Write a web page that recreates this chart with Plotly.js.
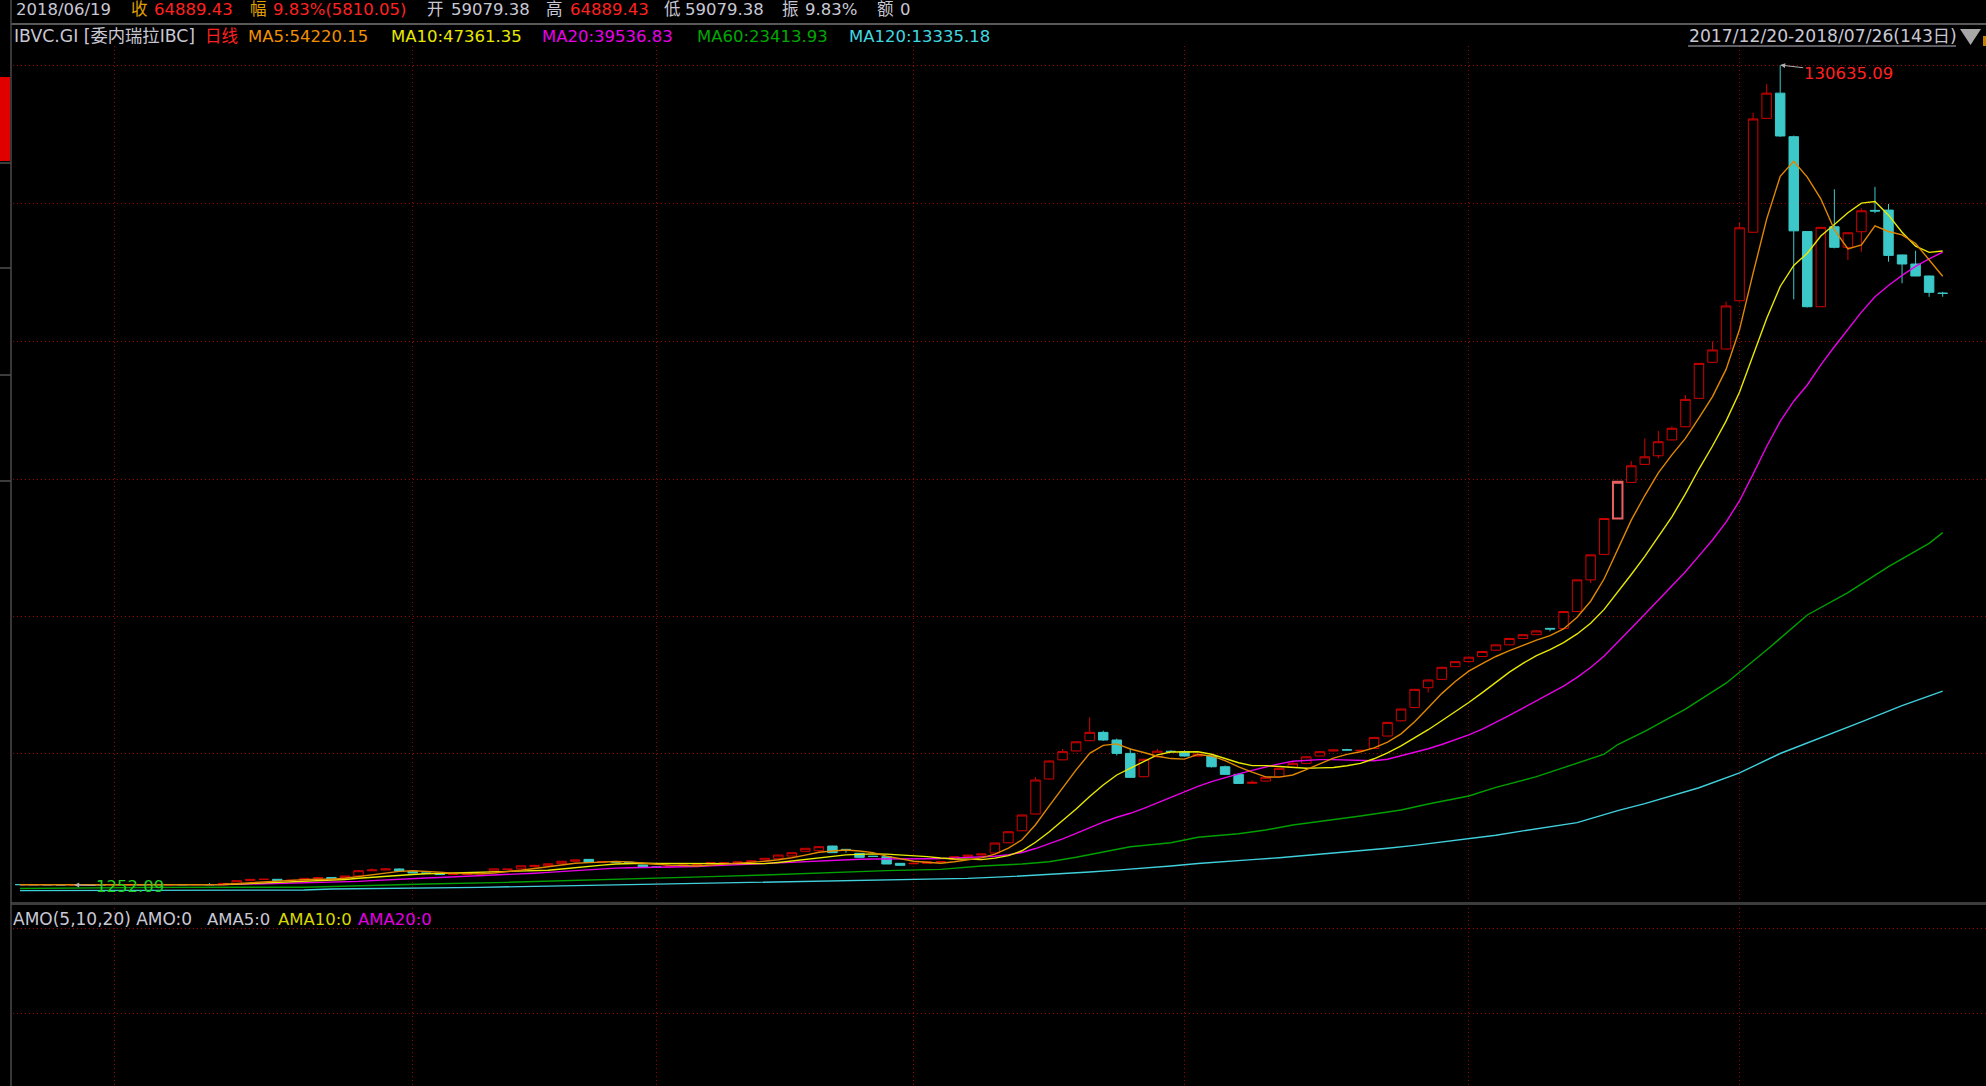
<!DOCTYPE html>
<html><head><meta charset="utf-8">
<script src="https://cdn.plot.ly/plotly-3.0.1.min.js"></script>
<style>html,body{margin:0;padding:0;background:#000;overflow:hidden}#chart{width:1986px;height:1086px}</style>
</head><body><div id="chart"></div>
<script>
// ---- data (daily bars 2017/12/20 - 2018/07/26, 143 bars) ----
const opens = [1320,1310,1300,1290,1272,1282,1292,1286,1292,1300,1296,1302,1312,1306,
 1322,1300,1410,1940,2140,2150,1950,2000,2250,2440,2400,2670,3500,3620,3780,3400,
 3150,3100,2900,2950,3000,3450,3700,3800,4150,4300,4620,5000,5300,4800,4950,4850,
 4400,4100,4100,4300,4400,4560,4770,4790,4880,5200,5460,5830,6575,6670,7400,6880,
 6249,5800,5723,4671,4600,4671,4880,5300,5720,5980,
 6300,7910,9810,12460,17980,21000,22400,24020,25340,24130,22020,18340,21480,22360,
 22290,21600,21600,19910,18710,17300,17660,18340,19800,20440,21610,22400,22600,22450,
 22800,24760,27160,29270,32380,33700,35700,36500,37300,38300,39150,40150,40750,41750,
 41740,44400,49400,53420,59079.38,64780,67620,68980,71480,73560,78040,83730,85830,93440,
 104250,122220,126200,119330,104360,92500,105120,101870,104330,107700,107750,100670,99240,97350,94650];
const highs = [1345,1325,1310,1300,1290,1300,1305,1300,1310,1312,1310,1322,1325,1335,
 1560,1520,1940,2150,2160,2160,2010,2310,2410,2450,2680,3530,3880,3790,3880,3420,
 3180,3120,2960,3010,3120,3800,3770,4290,4360,4610,5010,5210,5320,4960,4970,4870,
 4420,4250,4310,4410,4460,4800,4800,4900,5080,5480,6000,6360,7100,7310,7450,6890,
 6260,5850,5730,4700,4700,4900,5000,5750,6000,6200,
 7900,9700,12350,18290,20900,22710,23950,27700,25600,24350,22800,21150,22710,22500,
 22500,21950,21700,20100,18900,17750,18300,19700,20700,21550,22350,22600,22750,22600,
 24600,27000,29100,32200,33700,35700,36600,37300,38200,39200,40200,40800,41400,41760,
 44500,49450,53400,59079.38,64889.43,68150,71720,72890,73600,78570,83600,87000,93300,105720,
 123130,127650,130635.09,119500,104400,105100,111030,104200,108010,111420,108720,100700,101330,97400,94860];
const lows = [1300,1290,1280,1262,1252.09,1270,1278,1272,1282,1286,1285,1292,1298,1300,
 1320,1290,1400,1930,2130,1940,1940,1990,2240,2190,2390,2660,3490,3610,3440,3140,
 3090,2890,2890,2940,2990,3440,3690,3790,4140,4290,4610,4990,4790,4790,4840,4690,
 4040,4040,4090,4290,4390,4550,4740,4780,4870,5190,5450,5820,6560,6660,6340,6354,
 5600,5700,4560,4350,4590,4660,4870,5290,5710,5970,
 6250,7900,9800,12400,17900,20950,22350,23950,24000,21700,18150,18250,21400,22200,
 21500,21500,19800,18600,17200,17250,17600,18300,19750,20400,21580,22350,22450,22400,
 22750,24700,27100,29200,31600,33650,35650,36450,37250,38250,39100,40100,40700,41300,
 41700,44350,48900,53400,59079.38,64700,67600,68570,71450,73500,78000,83700,85800,93400,
 104200,122200,119300,93660,92400,92450,101710,99870,101180,107260,99600,96200,97300,94060,94070];
const closes = [1310,1300,1290,1272,1282,1292,1286,1292,1300,1296,1302,1312,1306,1322,
 1300,1500,1930,2140,2150,1950,2000,2300,2400,2200,2670,3510,3620,3780,3450,3150,
 3100,2900,2950,3000,3100,3800,3760,4280,4350,4600,5000,5200,4800,4950,4850,4700,
 4050,4050,4300,4400,4450,4770,4790,4880,5040,5460,5985,6350,7040,7300,6354,6800,
 5617,5750,4566,4355,4671,4880,4935,5720,5980,6143,
 7880,9660,12300,17820,20820,22290,23850,25340,24130,22020,18240,21090,22360,22300,
 21600,21900,19910,18710,17280,17450,18240,19660,20440,21480,22290,22550,22550,22500,
 24540,26910,29020,32120,33600,35600,36500,37200,38100,39150,40150,40750,41350,41650,
 44400,49400,53350,59079.38,64889.43,67400,68820,71200,73320,77880,83560,85680,92620,104950,
 122130,126200,119440,104470,92500,105020,101870,104170,107640,107600,100600,99240,97350,94770,94600];

// moving averages whose history starts before the window: values
const ma60Bars = [0,10,21,24,30,36,40,43,47,51,55,58,61,64,68,71,74,76,78,80,82,85,87,90,92,94,97,99,102,104,107,109,112,114,117,118,120,123,126,129,132,135,138,141,142];
const ma60Vals = [700,880,900,1094,1410,1673,1883,2094,2304,2567,2830,3093,3251,3514,3724,4250,4566,4929,5623,6507,7296,7927,8779,9347,9931,10720,11509,12140,13087,14034,15296,16669,18342,19762,21900,23414,25500,29000,33100,38335,43860,47380,51480,55170,56850];
const ma120Bars = [0,10,21,23,27,34,41,48,54,59,64,70,73,76,79,81,83,85,87,89,91,93,95,97,99,101,103,105,107,109,111,113,115,118,120,124,127,130,133,136,139,142];
const ma120Vals = [360,400,460,620,673,884,1147,1410,1620,1883,2094,2304,2567,2900,3300,3600,3900,4250,4650,5000,5250,5550,5900,6300,6700,7050,7500,8050,8550,9100,9800,10400,11100,13000,14100,16600,18950,22000,24450,27000,29550,31850];

const monthStarts = [7,29,47,66,86,107,127];       // first trading day of each month
const priceGrid = [130490,108710,87090,65310,43690,22070];
const amo = closes.map(() => 0);                    // AMO amounts (all 0)
const amoGrid = [1.2, 2.59];
const selIdx = 118;                                  // 2018/06/19 (cursor bar)
const lowIdx = 4, highIdx = 130;

const W = 1986, H = 1086;
const FONT = 'DejaVu Sans, Noto Sans CJK SC, sans-serif';
const bars = closes.map((_, i) => i);

function movingAverage(src, n) {
  return src.map((_, i) => {
    const s = Math.max(0, i - n + 1);
    const w = src.slice(s, i + 1);
    return w.reduce((a, b) => a + b, 0) / w.length;
  });
}

const UP = '#d00000', DOWN = '#3cc8c8';
const traces = [
  {type:'candlestick', x:bars, open:opens, high:highs, low:lows, close:closes,
   increasing:{line:{color:UP,width:1}, fillcolor:'#000000'},
   decreasing:{line:{color:DOWN,width:1}, fillcolor:DOWN},
   whiskerwidth:0, hoverinfo:'skip', showlegend:false},
  {type:'candlestick', x:[bars[selIdx]], open:[opens[selIdx]], high:[highs[selIdx]], low:[lows[selIdx]], close:[closes[selIdx]],
   increasing:{line:{color:'#e86060',width:2}, fillcolor:'#000000'},
   decreasing:{line:{color:'#e86060',width:2}, fillcolor:'#000000'},
   whiskerwidth:0, hoverinfo:'skip', showlegend:false},
  {type:'scatter', mode:'lines', x:ma120Bars, y:ma120Vals, line:{color:'#40d0dc',width:1.4}, hoverinfo:'skip'},
  {type:'scatter', mode:'lines', x:ma60Bars, y:ma60Vals, line:{color:'#00a000',width:1.4}, hoverinfo:'skip'},
  {type:'scatter', mode:'lines', x:bars, y:movingAverage(closes,20), line:{color:'#e800e8',width:1.4}, hoverinfo:'skip'},
  {type:'scatter', mode:'lines', x:bars, y:movingAverage(closes,10), line:{color:'#e8e800',width:1.4}, hoverinfo:'skip'},
  {type:'scatter', mode:'lines', x:bars, y:movingAverage(closes,5), line:{color:'#e08800',width:1.4}, hoverinfo:'skip'},
  {type:'bar', x:bars, y:amo, xaxis:'x2', yaxis:'y2', marker:{color:UP}, hoverinfo:'skip'}
];

const GRID = '#a00000', GDASH = '1px,3px';
const px = v => v / W, py = v => 1 - v / H;

function txt(s, x, y, color, size) {
  return {xref:'paper', yref:'paper', x:px(x), y:py(y), xanchor:'left', yanchor:'middle',
    text:s, showarrow:false, font:{family:FONT, size:size || 16.5, color:color}, borderpad:0};
}
const GRAY = '#c8c8d4', RED = '#ff2020', GOLD = '#e0a000';
const annotations = [
  txt('2018/06/19', 15, 10, GRAY),
  txt('收', 130, 10, GOLD), txt('64889.43', 153, 10, RED),
  txt('幅', 249, 10, GOLD), txt('9.83%(5810.05)', 272, 10, RED),
  txt('开', 426, 10, GRAY), txt('59079.38', 450, 10, GRAY),
  txt('高', 545, 10, GRAY), txt('64889.43', 569, 10, RED),
  txt('低', 663, 10, GRAY), txt('59079.38', 684, 10, GRAY),
  txt('振', 781, 10, GRAY), txt('9.83%', 804, 10, GRAY),
  txt('额', 876, 10, GRAY), txt('0', 899, 10, GRAY),
  txt('IBVC.GI [委内瑞拉IBC]', 13, 36, GRAY, 17.3),
  txt('日线', 204, 36, RED),
  txt('MA5:54220.15', 247, 36, '#f09000'),
  txt('MA10:47361.35', 390, 36, '#e8e800'),
  txt('MA20:39536.83', 541, 36, '#e800e8'),
  txt('MA60:23413.93', 696, 36, '#00a800'),
  txt('MA120:13335.18', 848, 36, '#40d8e0'),
  txt('2017/12/20-2018/07/26(143日)', 1688, 36, GRAY, 17.2),
  txt('AMO(5,10,20) AMO:0', 12, 919, GRAY, 17),
  txt('AMA5:0', 206, 919, GRAY),
  txt('AMA10:0', 277, 919, '#d8d800'),
  txt('AMA20:0', 357, 919, '#e000e0'),
  {xref:'x', yref:'y', x:bars[highIdx], y:highs[highIdx], text:highs[highIdx].toFixed(2),
   showarrow:true, ax:68, ay:8, arrowhead:2, arrowsize:1, arrowwidth:1, arrowcolor:'#b0b0b0',
   font:{family:FONT, size:16.5, color:RED}, borderpad:0},
  {xref:'x', yref:'y', x:bars[lowIdx], y:lows[lowIdx], text:lows[lowIdx].toFixed(2),
   showarrow:true, ax:56, ay:1, arrowhead:2, arrowsize:1, arrowwidth:1, arrowcolor:'#b0b0b0',
   font:{family:FONT, size:16.5, color:'#20d020'}, borderpad:0}
];

const shapes = [
  {type:'line', xref:'paper', yref:'paper', x0:px(11), x1:1, y0:py(24), y1:py(24), line:{color:'#585858', width:2}},
  {type:'rect', xref:'paper', yref:'paper', x0:px(11), x1:1, y0:py(902), y1:py(905), fillcolor:'#3c3c3c', line:{width:0}},
  {type:'line', xref:'paper', yref:'paper', x0:px(11), x1:px(11), y0:0, y1:1, line:{color:'#4a4a4a', width:1.5}},
  {type:'rect', xref:'paper', yref:'paper', x0:0, x1:px(10), y0:py(161), y1:py(77), fillcolor:'#e00000', line:{width:0}},
  {type:'line', xref:'paper', yref:'paper', x0:0, x1:px(11), y0:py(163), y1:py(163), line:{color:'#505050', width:1.5}},
  {type:'line', xref:'paper', yref:'paper', x0:0, x1:px(11), y0:py(268), y1:py(268), line:{color:'#505050', width:1.5}},
  {type:'line', xref:'paper', yref:'paper', x0:0, x1:px(11), y0:py(375), y1:py(375), line:{color:'#505050', width:1.5}},
  {type:'line', xref:'paper', yref:'paper', x0:0, x1:px(11), y0:py(481), y1:py(481), line:{color:'#505050', width:1.5}},
  {type:'line', xref:'paper', yref:'paper', x0:px(1688), x1:px(1956), y0:py(46), y1:py(46), line:{color:'#b8b8c4', width:1}},
  {type:'path', xref:'paper', yref:'paper', path:`M ${px(1960)} ${py(29)} L ${px(1981)} ${py(29)} L ${px(1970.5)} ${py(45)} Z`, fillcolor:'#a8a8a8', line:{width:0}},
  {type:'rect', xref:'paper', yref:'paper', x0:px(1983), x1:1, y0:py(46), y1:py(36), fillcolor:'#c08000', line:{width:0}}
];

const layout = {
  width:W, height:H, margin:{l:0,r:0,t:0,b:0},
  paper_bgcolor:'#000', plot_bgcolor:'#000', showlegend:false,
  boxgap:0.3, boxgroupgap:0,
  xaxis:{domain:[13/W,1], range:[-0.52,145.2], tickvals:monthStarts, showticklabels:false, ticks:'',
         showgrid:true, gridcolor:GRID, griddash:GDASH, gridwidth:1, zeroline:false, showline:false,
         rangeslider:{visible:false}, fixedrange:true},
  yaxis:{domain:[183/H, 1040/H], range:[-1588,133640], tickvals:priceGrid, showticklabels:false, ticks:'',
         showgrid:true, gridcolor:GRID, griddash:GDASH, gridwidth:1, zeroline:false, showline:false},
  xaxis2:{domain:[13/W,1], anchor:'y2', matches:'x', tickvals:monthStarts, showticklabels:false, ticks:'',
          showgrid:true, gridcolor:GRID, griddash:GDASH, gridwidth:1, zeroline:false, showline:false},
  yaxis2:{domain:[0, 182/H], range:[0,3], tickvals:amoGrid, showticklabels:false, ticks:'',
          showgrid:true, gridcolor:GRID, griddash:GDASH, gridwidth:1, zeroline:false, showline:false},
  annotations:annotations, shapes:shapes
};

Plotly.newPlot('chart', traces, layout, {staticPlot:true, displayModeBar:false});
</script>
</body></html>
